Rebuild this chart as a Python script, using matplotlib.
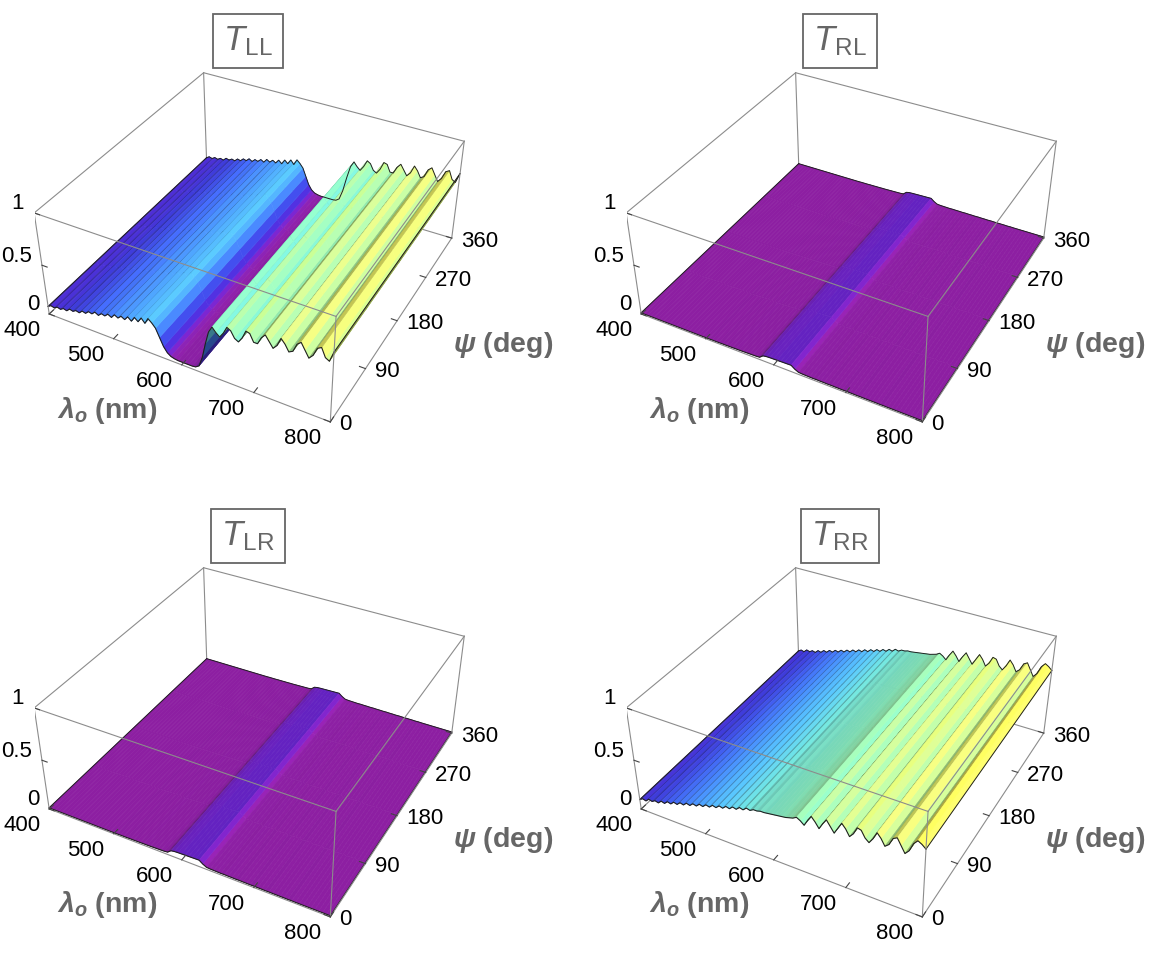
import numpy as np
import matplotlib
matplotlib.use("Agg")
import matplotlib.pyplot as plt
from matplotlib.colors import LinearSegmentedColormap

plt.rcParams['font.family'] = ['Liberation Sans', 'DejaVu Sans']
plt.rcParams['mathtext.fontset'] = 'custom'
plt.rcParams['mathtext.it'] = 'Liberation Sans:italic:bold'
plt.rcParams['mathtext.rm'] = 'Liberation Sans'
plt.rcParams['mathtext.sf'] = 'Liberation Sans:italic'

# wavelength samples (nm) and rotation angle samples (deg)
lam = np.arange(400, 805, 5)
psi = np.array([0, 90, 180, 270, 360])

T_LL = np.array([
    0.08, 0.10, 0.09, 0.11, 0.10, 0.12, 0.11, 0.14, 0.13, 0.15,
    0.14, 0.17, 0.16, 0.19, 0.18, 0.21, 0.19, 0.22, 0.21, 0.24,
    0.22, 0.26, 0.24, 0.27, 0.25, 0.29, 0.26, 0.31, 0.28, 0.33,
    0.29, 0.35, 0.32, 0.28, 0.20, 0.12, 0.07, 0.045, 0.035, 0.03,
    0.03, 0.03, 0.03, 0.03, 0.035, 0.06, 0.16, 0.31, 0.44, 0.50,
    0.46, 0.43, 0.48, 0.55, 0.53, 0.47, 0.45, 0.50, 0.58, 0.57,
    0.50, 0.50, 0.57, 0.61, 0.56, 0.51, 0.55, 0.63, 0.59, 0.53,
    0.55, 0.63, 0.66, 0.60, 0.54, 0.58, 0.66, 0.68, 0.60, 0.58,
    0.68])
T_RL = np.array([
    0.012, 0.012, 0.012, 0.012, 0.012, 0.012, 0.012, 0.012, 0.012, 0.012,
    0.012, 0.012, 0.012, 0.012, 0.012, 0.012, 0.012, 0.012, 0.012, 0.012,
    0.012, 0.012, 0.013, 0.013, 0.013, 0.014, 0.014, 0.015, 0.015, 0.016,
    0.016, 0.017, 0.018, 0.019, 0.020, 0.021, 0.024, 0.052, 0.058, 0.060,
    0.061, 0.062, 0.063, 0.064, 0.065, 0.066, 0.040, 0.022, 0.019, 0.018,
    0.017, 0.016, 0.017, 0.016, 0.016, 0.015, 0.016, 0.015, 0.015, 0.014,
    0.015, 0.014, 0.014, 0.013, 0.014, 0.013, 0.013, 0.013, 0.013, 0.012,
    0.013, 0.012, 0.012, 0.012, 0.012, 0.012, 0.012, 0.012, 0.012, 0.012,
    0.012])
T_LR = np.array([
    0.012, 0.012, 0.012, 0.012, 0.012, 0.012, 0.012, 0.012, 0.012, 0.012,
    0.012, 0.012, 0.012, 0.012, 0.012, 0.012, 0.012, 0.012, 0.012, 0.012,
    0.012, 0.012, 0.013, 0.013, 0.013, 0.014, 0.014, 0.015, 0.015, 0.016,
    0.016, 0.017, 0.018, 0.019, 0.020, 0.021, 0.025, 0.053, 0.059, 0.061,
    0.062, 0.063, 0.064, 0.065, 0.066, 0.067, 0.041, 0.022, 0.019, 0.018,
    0.017, 0.016, 0.017, 0.016, 0.016, 0.015, 0.016, 0.015, 0.015, 0.014,
    0.015, 0.014, 0.014, 0.013, 0.014, 0.013, 0.013, 0.013, 0.013, 0.012,
    0.013, 0.012, 0.012, 0.012, 0.012, 0.012, 0.012, 0.012, 0.012, 0.012,
    0.012])
T_RR = np.array([
    0.10, 0.12, 0.11, 0.14, 0.13, 0.15, 0.14, 0.17, 0.16, 0.19,
    0.18, 0.21, 0.20, 0.23, 0.22, 0.25, 0.24, 0.27, 0.26, 0.29,
    0.28, 0.31, 0.30, 0.33, 0.32, 0.35, 0.34, 0.37, 0.36, 0.39,
    0.38, 0.41, 0.40, 0.43, 0.42, 0.44, 0.44, 0.45, 0.45, 0.455,
    0.46, 0.465, 0.47, 0.475, 0.48, 0.49, 0.50, 0.52, 0.50, 0.47,
    0.53, 0.58, 0.54, 0.49, 0.55, 0.60, 0.55, 0.50, 0.56, 0.62,
    0.58, 0.52, 0.56, 0.63, 0.62, 0.56, 0.53, 0.58, 0.65, 0.61,
    0.55, 0.58, 0.65, 0.67, 0.61, 0.55, 0.59, 0.67, 0.71, 0.69,
    0.66])

lam_ticks = [400, 500, 600, 700, 800]
psi_ticks = [0, 90, 180, 270, 360]
t_ticks = [0, 0.5, 1]
t_labels = ['0', '0.5', '1']

cmap = LinearSegmentedColormap.from_list('tc', [
    (0.00, '#8e1fa0'), (0.035, '#8a20a6'), (0.06, '#6822c2'), (0.09, '#4a2ac8'),
    (0.13, '#3b36cc'), (0.20, '#3e62e6'), (0.28, '#4797f2'), (0.34, '#52b8f2'),
    (0.41, '#68d6d8'), (0.48, '#86e6b8'), (0.55, '#aeee98'), (0.62, '#d6f27a'),
    (0.70, '#f6ea58'), (1.00, '#ffe640')])

# view matching the reference box (fitted once against its corners)
ELEV, AZIM, FOCAL, ZASP = 36.25, -61.75, 0.465, 0.40
SCALE, TX, TY = 2363.2, 259.4, -226.5

W, H = 1152, 968
fig = plt.figure(figsize=(W / 100, H / 100), dpi=100)


def shade_colors(T):
    xb = (lam - lam[0]) / (lam[-1] - lam[0])
    zb = T * ZASP
    slope = np.diff(zb) / np.diff(xb)
    nrm = np.sqrt(1 + slope ** 2)
    nx, nz = -slope / nrm, 1 / nrm
    lx, lz = 0.8, 0.6
    dot = nx * lx + nz * lz
    fac = np.clip(1 + 0.32 * (dot - lz), 0.55, 1.2)
    base = cmap(np.clip((T[:-1] + T[1:]) / 2, 0, 1))[:, :3]
    out = np.clip(base * fac[:, None], 0, 1)
    rgba = np.column_stack([out, np.ones(len(out))])
    rgba = np.vstack([rgba, rgba[-1]])
    return np.tile(rgba[None], (len(psi), 1, 1))


def place(ax, ox, oy):
    side0 = 400.0
    ax.set_position([0, 0, side0 / W, side0 / H])
    ax.apply_aspect()
    p0 = ax.transData.transform((0.0, 0.0))
    p1 = ax.transData.transform((1.0, 1.0))
    k = SCALE / (p1[0] - p0[0])
    L = ox + TX - k * p0[0]
    B = (H - oy) + TY - k * p0[1]
    ax.set_position([L / W, B / H, side0 * k / W, side0 * k / H])
    ax.apply_aspect()


def to_px(ax, x, y, z):
    q = ax.get_proj() @ np.array([x, y, z, 1.0])
    return ax.transData.transform((q[0] / q[3], q[1] / q[3]))


def label(ax, x, y, z, s, dx, dy, **kw):
    px, py = to_px(ax, x, y, z)
    fig.text((px + dx) / W, (py + dy) / H, s, fontsize=16, **kw)


def panel(T, name, ox, oy):
    ax = fig.add_axes([0, 0, 0.3, 0.3], projection='3d', computed_zorder=False)
    x0, x1, y0, y1 = lam[0], lam[-1], psi[0], psi[-1]
    ax.set_xlim(x0, x1); ax.set_ylim(y0, y1); ax.set_zlim(0, 1)
    ax.set_box_aspect((1, 1, ZASP))
    ax.view_init(ELEV, AZIM)
    ax.set_proj_type('persp', focal_length=FOCAL)
    ax.set_axis_off()
    ax.set_facecolor('none')
    place(ax, ox, oy)

    ec = '#8c8c8c'
    hidden = [((x0, x0), (y0, y1), (0, 0)), ((x0, x1), (y1, y1), (0, 0)),
              ((x0, x0), (y1, y1), (0, 1))]
    front = [((x0, x1), (y0, y0), (0, 0)), ((x1, x1), (y0, y1), (0, 0)),
             ((x0, x0), (y0, y0), (0, 1)), ((x1, x1), (y0, y0), (0, 1)),
             ((x1, x1), (y1, y1), (0, 1)), ((x0, x1), (y0, y0), (1, 1)),
             ((x1, x1), (y0, y1), (1, 1)), ((x0, x1), (y1, y1), (1, 1)),
             ((x0, x0), (y0, y1), (1, 1))]
    for e in hidden:
        ax.plot(*e, color=ec, lw=0.8, zorder=1)

    LAM, PSI = np.meshgrid(lam, psi)
    Z = np.tile(T, (len(psi), 1))
    ax.plot_surface(LAM, PSI, Z, facecolors=shade_colors(T), rstride=1, cstride=1,
                    shade=False, linewidth=0.4, antialiased=True, zorder=2)
    k = '#202020'
    ax.plot(lam, np.full_like(lam, y1), T, color=k, lw=0.7, zorder=3)
    ax.plot(lam, np.full_like(lam, y0), T, color=k, lw=0.8, zorder=3)
    ax.plot([x0, x0], [y0, y1], [T[0], T[0]], color=k, lw=0.7, zorder=3)
    ax.plot([x1, x1], [y0, y1], [T[-1], T[-1]], color=k, lw=0.7, zorder=3)
    for e in front:
        ax.plot(*e, color=ec, lw=0.8, zorder=4)

    for v in lam_ticks:
        ax.plot([v, v], [y0, y0 + 8], [0, 0], color='#444444', lw=0.8, zorder=4)
        label(ax, v, y0, 0, str(v), -9, -6, ha='right', va='top')
    for v in psi_ticks:
        ax.plot([x1, x1 - 8], [v, v], [0, 0], color='#444444', lw=0.8, zorder=4)
        label(ax, x1, v, 0, str(v), 9, -3, ha='left', va='center')
    for v, s in zip(t_ticks, t_labels):
        ax.plot([x0, x0 + 8], [y0, y0], [v, v], color='#444444', lw=0.8, zorder=4)
        label(ax, x0, y0, v, s, -10, 9, ha='right', va='center')

    fig.text((ox + 107) / W, 1 - (oy + 410) / H, r'$\lambda_o$ (nm)', ha='center',
             va='center', fontsize=20.5, fontweight='bold', color='#666666')
    fig.text((ox + 503) / W, 1 - (oy + 345) / H, r'$\psi$ (deg)', ha='center',
             va='center', fontsize=20.5, fontweight='bold', color='#666666')
    fig.text((ox + 248) / W, 1 - (oy + 41) / H, r'$\mathsf{T}_{\mathrm{%s}}$' % name,
             ha='center', va='center', fontsize=25, color='#666666',
             bbox=dict(boxstyle='square,pad=0.3', fc='white', ec='#666666', lw=1.3))


panel(T_LL, 'LL', 0, 0)
panel(T_RL, 'RL', 592, 0)
panel(T_LR, 'LR', 0, 495)
panel(T_RR, 'RR', 592, 495)

fig.savefig('out.png', dpi=100)
